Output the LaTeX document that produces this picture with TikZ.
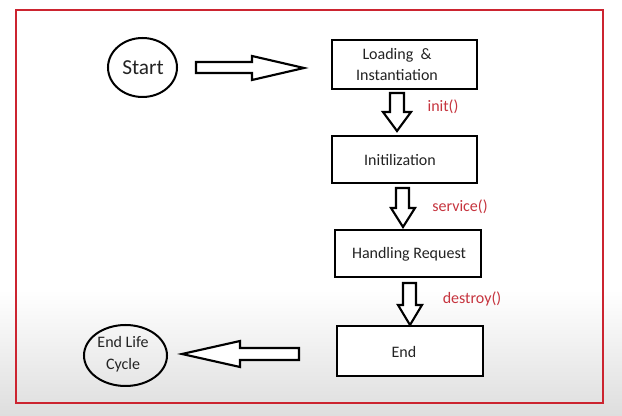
\documentclass[tikz,border=0pt]{standalone}
\usepackage{fontspec}
\setmainfont{Carlito}
\usetikzlibrary{shapes.geometric}
\definecolor{frame}{RGB}{204,36,48}
\definecolor{lab}{RGB}{198,52,62}
\definecolor{ink}{RGB}{35,35,35}
\begin{document}
\begin{tikzpicture}[x=0.75pt,y=-0.75pt,
  box/.style={draw=black,line width=1.9pt,fill=white,inner sep=0pt},
  oval/.style={ellipse,draw=black,line width=1.5pt,inner sep=0pt},
  txt/.style={text=ink,font=\fontsize{12}{14.5}\selectfont,align=center,inner sep=0pt},
  lbl/.style={text=lab,font=\fontsize{12}{14}\selectfont,inner sep=0pt},
  barrow/.style={draw=black,fill=white,line width=1.6pt,line join=miter}]
\useasboundingbox (0,0) rectangle (622,416);
\fill[white] (0,0) rectangle (622,290);
\shade[top color=white,bottom color=black!13] (0,290) rectangle (622,416);
\draw[frame,line width=2.2pt] (16,10) rectangle (603,403);
% boxes
\node[box,minimum width=108.75pt,minimum height=36.75pt] (load) at (404.5,64.5) {};
\node[box,minimum width=108.75pt,minimum height=35.25pt] (init) at (404.5,159.5) {};
\node[box,minimum width=109.5pt,minimum height=35.25pt] (hand) at (408,253.5) {};
\node[box,minimum width=109.5pt,minimum height=37.5pt] (endb) at (410,351) {};
\node[txt] (tload) at (397,64.5) {Loading\ \ \&\\[1pt]Instantiation};
\node[txt] (tinit) at (400,160) {Initilization};
\node[txt] (thand) at (409,254) {Handling Request};
\node[txt] (tend) at (404,352) {End};
% ovals
\node[oval,minimum width=51.75pt,minimum height=44.25pt] (start) at (142.5,67.5) {};
\node[txt,font=\fontsize{16}{19}\selectfont] (tstart) at (143,68) {Start};
\node[oval,minimum width=62.25pt,minimum height=45.75pt] (elc) at (125.5,355.5) {};
\node[txt] (telc) at (123,354) {End Life\\[2pt]Cycle};
% block arrows
\draw[barrow] (196,62) -- (252,62) -- (252,56) -- (304,68) -- (252,80) -- (252,73) -- (196,73) -- cycle;
\draw[barrow] (390,93) -- (404,93) -- (404,112) -- (411,112) -- (397,131) -- (383,112) -- (390,112) -- cycle;
\draw[barrow] (396,188) -- (409,188) -- (409,208) -- (415,208) -- (403,227) -- (391,208) -- (396,208) -- cycle;
\draw[barrow] (403,283) -- (416,283) -- (416,305) -- (422,305) -- (410,325) -- (398,305) -- (403,305) -- cycle;
\draw[barrow] (299,348) -- (240,348) -- (240,341) -- (182,354) -- (240,367) -- (240,360) -- (299,360) -- cycle;
% labels
\node[lbl] (linit) at (443,107) {init()};
\node[lbl] (lserv) at (460,207) {service()};
\node[lbl] (ldest) at (472,299) {destroy()};
\end{tikzpicture}
\end{document}
